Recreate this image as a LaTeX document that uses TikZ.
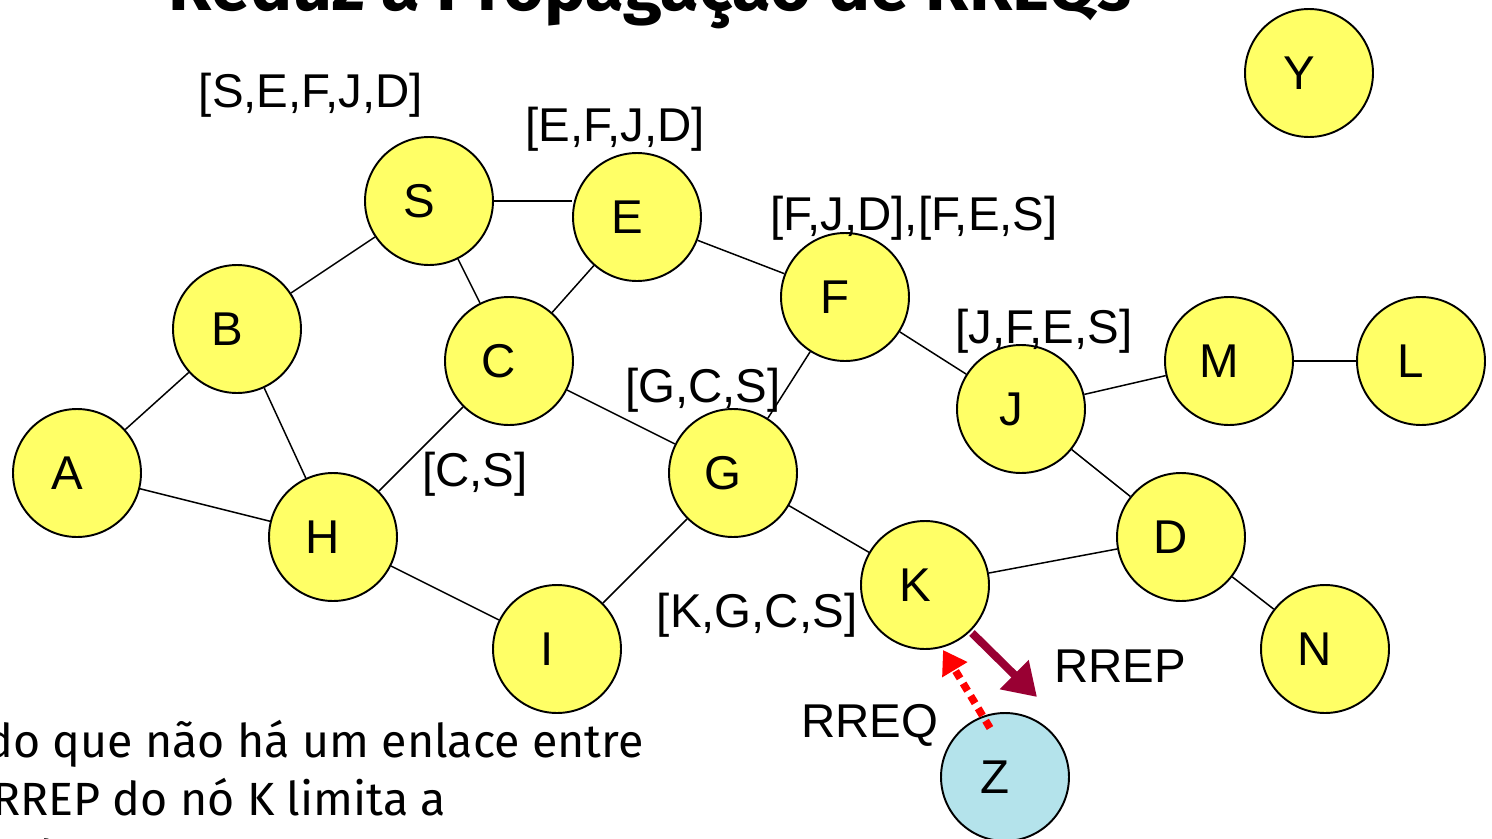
\documentclass[tikz,border=0pt]{standalone}
\usepackage{fontspec}
\setmainfont{Liberation Sans}
\newfontfamily\comic{Fira Sans}
\usetikzlibrary{arrows.meta}
\definecolor{amarelo}{HTML}{FFFF66}
\definecolor{azulz}{HTML}{B4E3EB}
\definecolor{vinho}{HTML}{990033}
\begin{document}
\begin{tikzpicture}[x=0.02cm, y=-0.02cm,
    nodo/.style={circle, draw, line width=1.1pt, fill=amarelo, minimum size=2.56cm,
      inner sep=0pt, font=\fontsize{27}{32}\selectfont,
      execute at end node={\kern0.4cm}},
    rota/.style={anchor=base, inner sep=0pt, font=\fontsize{27}{32}\selectfont},
    enlace/.style={line width=0.85pt},
    fala/.style={anchor=base west, inner sep=0pt, font=\comic\fontsize{26.5}{32}\selectfont}]
        \useasboundingbox (0,0) rectangle (1492,839);
        \clip (0,0) rectangle (1492,839);

        % titulo (cortado no topo)
        \node (titulo) at (650,10) [anchor=base, inner sep=0pt,
          font=\comic\bfseries\fontsize{40}{46}\selectfont] {Reduz a Propagação de RREQs};

        % nos
        \node[nodo] (Y) at (1309, 73) {Y};
        \node[nodo] (S) at (429, 201) {S};
        \node[nodo] (E) at (637, 217) {E};
        \node[nodo] (F) at (845, 297) {F};
        \node[nodo] (B) at (237, 329) {B};
        \node[nodo] (C) at (509, 361) {C};
        \node[nodo] (J) at (1021, 409) {J};
        \node[nodo] (M) at (1229, 361) {M};
        \node[nodo] (L) at (1421, 361) {L};
        \node[nodo] (A) at (77, 473) {A};
        \node[nodo] (G) at (733, 473) {G};
        \node[nodo] (H) at (333, 537) {H};
        \node[nodo] (D) at (1181, 537) {D};
        \node[nodo] (K) at (925, 585) {K};
        \node[nodo] (I) at (557, 649) {I};
        \node[nodo] (N) at (1325, 649) {N};
        \node[nodo, fill=azulz] (Z) at (1005, 777) {Z};

        % enlaces
        \draw[enlace] (S.east) -- (S.east -| E.west);
        \draw[enlace] (S) -- (B);
        \draw[enlace] (S) -- (C);
        \draw[enlace] (E) -- (C);
        \draw[enlace] (E) -- (F);
        \draw[enlace] (F) -- (J);
        \draw[enlace] (F) -- (G);
        \draw[enlace] (B) -- (A);
        \draw[enlace] (B) -- (H);
        \draw[enlace] (C) -- (H);
        \draw[enlace] (C) -- (G);
        \draw[enlace] (A) -- (H);
        \draw[enlace] (H) -- (I);
        \draw[enlace] (I) -- (G);
        \draw[enlace] (G) -- (K);
        \draw[enlace] (K) -- (D);
        \draw[enlace] (J) -- (D);
        \draw[enlace] (J) -- (M);
        \draw[enlace] (M) -- (L);
        \draw[enlace] (D) -- (N);

        % rotas acumuladas
        \node[rota] (rS) at (311, 107) {[S,E,F,J,D]};
        \node[rota] (rE) at (615, 141) {[E,F,J,D]};
        \node[rota] (rF) at (914, 230) {[F,J,D],[F,E,S]};
        \node[rota] (rJ) at (1044, 343) {[J,F,E,S]};
        \node[rota] (rG) at (703, 402) {[G,C,S]};
        \node[rota] (rC) at (475, 486) {[C,S]};
        \node[rota] (rK) at (757, 627) {[K,G,C,S]};
        \node[rota] (rrep) at (1120, 682) {RREP};
        \node[rota] (rreq) at (870, 737) {RREQ};

        % setas entre K e Z
        \coordinate (repA) at (972, 633);
        \coordinate (repB) at (1037, 697);
        \coordinate (reqA) at (990, 728);
        \coordinate (reqB) at (943, 650);
        \draw[vinho, line width=0.16cm, -{Triangle[length=0.64cm, width=0.78cm]}] (repA) -- (repB);
        \draw[red, line width=0.15cm, dash pattern=on 0.17cm off 0.12cm,
          -{Triangle[length=0.46cm, width=0.56cm]}] (reqA) -- (reqB);

        % texto de baixo (cortado)
        \node[fala] (t1) at (-15, 757) {do que não há um enlace entre};
        \node[fala] (t2) at (-8, 815) {RREP do nó K limita a};
        \node[fala] (t3) at (25, 873) {de RREQs};
      \end{tikzpicture}
\end{document}
